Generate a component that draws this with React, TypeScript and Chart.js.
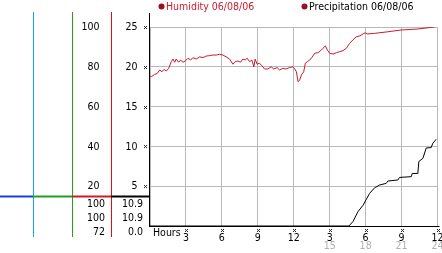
import React, { useEffect, useRef } from 'react';
import { Chart, registerables } from 'chart.js';

Chart.register(...registerables);

// Humidity (%), sampled over 24 hours
const humidityHours = [
  0.0, 0.11, 0.39, 0.61, 0.81, 1.0, 1.17, 1.36, 1.56, 1.78, 1.92, 2.06, 2.19, 2.39, 2.56, 2.75, 2.94,
  3.17, 3.39, 3.58, 3.86, 4.14, 4.42, 4.69, 4.97, 5.25, 5.53, 5.81, 6.08, 6.36, 6.64, 6.92, 7.11,
  7.33, 7.56, 7.75, 7.94, 8.11, 8.31, 8.5, 8.67, 8.78, 8.94, 9.14, 9.33, 9.56, 9.83, 10.11, 10.33,
  10.61, 10.81, 11.08, 11.36, 11.64, 11.92, 12.06, 12.22, 12.36, 12.5, 12.64, 12.83, 12.97, 13.14,
  13.33, 13.53, 13.75, 14.03, 14.25, 14.44, 14.64, 14.81, 15.0, 15.28, 15.56, 15.83, 16.11, 16.39,
  16.67, 16.94, 17.22, 17.5, 17.78, 17.97, 18.14, 18.75, 19.86, 20.97, 22.36, 23.75,
];
const humidity = [
  75.5, 75, 76.2, 76.7, 78.4, 77.5, 78.7, 77.9, 79.2, 82.6, 83.9, 82.3, 83.9, 82.3, 83.4, 82.3, 82.9,
  84.3, 83.4, 84.6, 83.9, 85, 84.6, 85.4, 85.6, 85.9, 85.9, 86.3, 85.9, 85, 83.9, 81.3, 82.6,
  82.9, 82.3, 83.9, 83.4, 84.3, 82.6, 83.4, 80, 83.9, 81.3, 81.8, 80.6, 78.9, 78.9, 80, 78.9,
  79.6, 78.4, 79.2, 78.9, 79.6, 80, 79.2, 77.5, 72.5, 73.4, 75.9, 77.5, 81.8, 82.6,
  83.4, 84.8, 86.8, 87.1, 88.1, 89.3, 90.5, 88.4, 86.8, 86.4, 87.1, 87.6, 88.1, 89.3,
  91.8, 93.5, 95.1, 95.5, 96.5, 97.1, 96.5, 96.8, 97.6, 98.5, 99, 100,
];

// Precipitation (accumulated)
const precipHours = [
  0, 16.6, 16.94, 17.36, 17.78, 18.33, 18.75, 19.17, 19.72, 19.86, 20.69, 20.83, 21.81, 21.89,
  22.36, 22.44, 22.78, 23.06, 23.47, 23.61, 23.89,
];
const precipitation = [
  0, 0, 0.55, 1.8, 2.6, 4.1, 4.8, 5.15, 5.36, 5.65, 5.78, 6.1, 6.2, 6.6,
  6.6, 8.1, 8.5, 9.8, 9.85, 10.4, 10.9,
];

const xTicks = [3, 6, 9, 12, 15, 18, 21, 24];
const xTickLabels = ['3', '6', '9', '12', '3', '6', '9', '12'];
const xTickLabels24 = ['', '', '', '', '15', '18', '21', '24'];
const precipTicks = [5, 10, 15, 20, 25];
const humidityTicks = [20, 40, 60, 80, 100];
const humidityStats = ['100', '100', '72'];
const precipStats = ['10.9', '10.9', '0.0'];
const legendLabels = ['Humidity 06/08/06', 'Precipitation 06/08/06'];

const FONT = '10.5px "DejaVu Sans Condensed", "DejaVu Sans"';
const RED = '#cc1a30';

function mark(ctx: CanvasRenderingContext2D, cx: number, cy: number) {
  ctx.fillStyle = '#222';
  const pts = [[-1, -1], [1, -1], [0, 0], [-1, 1], [1, 1]];
  for (const [dx, dy] of pts) ctx.fillRect(Math.round(cx) + dx, Math.round(cy) + dy, 1, 1);
}

const overlay = {
  id: 'overlay',
  beforeDatasetsDraw(chart: any) {
    const { ctx, chartArea: a } = chart;
    ctx.save();
    ctx.strokeStyle = '#000';
    ctx.lineWidth = 1;
    ctx.beginPath();
    ctx.moveTo(a.left - 0.5, 13);
    ctx.lineTo(a.left - 0.5, a.bottom + 1);
    ctx.moveTo(a.left - 1, a.bottom + 0.5);
    ctx.lineTo(a.right + 2, a.bottom + 0.5);
    ctx.stroke();
    ctx.restore();
  },
  afterDraw(chart: any) {
    const { ctx, chartArea: a, scales } = chart;
    const x = scales.x;
    const y = scales.y;
    const yh = scales.yh;
    ctx.save();

    // left panel vertical lines
    const vLines: [number, string][] = [[33.5, '#10a8e8'], [72.5, '#22a022'], [111.5, '#e01010']];
    ctx.lineWidth = 1;
    for (const [lx, c] of vLines) {
      ctx.strokeStyle = c;
      ctx.beginPath();
      ctx.moveTo(lx, 12);
      ctx.lineTo(lx, 237);
      ctx.stroke();
    }
    // horizontal bar
    const hY = 196.5;
    const segs: [number, number, string][] = [
      [0, 33, '#1a3fe0'], [33, 72, '#22a022'], [72, 111, '#d01c24'], [111, a.left, '#000'],
    ];
    ctx.lineWidth = 2;
    for (const [x0, x1, c] of segs) {
      ctx.strokeStyle = c;
      ctx.beginPath();
      ctx.moveTo(x0, hY);
      ctx.lineTo(x1, hY);
      ctx.stroke();
    }

    ctx.font = FONT;
    ctx.textBaseline = 'middle';
    ctx.fillStyle = '#000';
    // y tick labels
    ctx.textAlign = 'right';
    humidityTicks.forEach((v) => {
      ctx.fillStyle = '#000';
      ctx.fillText(String(v), 99.5, yh.getPixelForValue(v) + 0.5);
    });
    precipTicks.forEach((v) => {
      ctx.fillStyle = '#000';
      const py = y.getPixelForValue(v);
      ctx.fillText(String(v), 137.5, py + 0.5);
      mark(ctx, 145, py);
    });
    // stats
    const rows = [204.5, 218.5, 232.5];
    rows.forEach((ry, i) => {
      ctx.fillStyle = '#000';
      ctx.fillText(humidityStats[i], 105, ry);
      ctx.fillText(precipStats[i], 143, ry);
    });

    // x axis labels
    ctx.textAlign = 'left';
    ctx.fillStyle = '#000';
    ctx.fillText('Hours', 153, 233);
    ctx.textAlign = 'center';
    xTicks.forEach((t, i) => {
      const px = x.getPixelForValue(t);
      mark(ctx, px, 230);
      ctx.fillStyle = '#000';
      ctx.fillText(xTickLabels[i], px, 238.5);
      if (xTickLabels24[i]) {
        ctx.fillStyle = '#b0b0b0';
        ctx.fillText(xTickLabels24[i], px, 246.5);
      }
    });

    // legend
    ctx.textAlign = 'left';
    ctx.fillStyle = '#9a1020';
    ctx.beginPath();
    ctx.arc(161.5, 6.5, 3, 0, Math.PI * 2);
    ctx.fill();
    ctx.fillStyle = RED;
    ctx.fillText(legendLabels[0], 166, 7);
    ctx.fillStyle = '#9a1020';
    ctx.beginPath();
    ctx.arc(304.5, 6.5, 3, 0, Math.PI * 2);
    ctx.fill();
    ctx.fillStyle = '#000';
    ctx.fillText(legendLabels[1], 309, 7);

    ctx.restore();
  },
};

export default function App() {
  const ref = useRef<HTMLCanvasElement>(null);
  useEffect(() => {
    if (!ref.current) return;
    const chart = new Chart(ref.current, {
      type: 'line',
      data: {
        datasets: [
          {
            label: legendLabels[1],
            data: precipHours.map((h, i) => ({ x: h, y: precipitation[i] })),
            borderColor: '#000',
            borderWidth: 1,
            pointRadius: 0,
            tension: 0,
            yAxisID: 'y',
          },
          {
            label: legendLabels[0],
            data: humidityHours.map((h, i) => ({ x: h, y: humidity[i] })),
            borderColor: RED,
            borderWidth: 1,
            pointRadius: 0,
            tension: 0,
            yAxisID: 'yh',
          },
        ],
      },
      options: {
        responsive: false,
        animation: false,
        devicePixelRatio: 1,
        layout: { padding: { left: 150, top: 27, right: 4.5, bottom: 27 } },
        plugins: { legend: { display: false }, tooltip: { enabled: false } },
        scales: {
          x: {
            type: 'linear',
            min: 0,
            max: 24,
            ticks: { display: false, stepSize: 3 },
            grid: { color: '#b8b8b8', lineWidth: 1, drawTicks: false },
            border: { display: false },
            afterFit: (s: any) => { s.height = 0; },
          },
          y: {
            min: 0,
            max: 25,
            ticks: { display: false, stepSize: 5 },
            grid: { color: '#b8b8b8', lineWidth: 1, drawTicks: false },
            border: { display: false },
            afterFit: (s: any) => { s.width = 0; },
          },
          yh: {
            display: false,
            min: 0,
            max: 100,
          },
        },
      } as any,
      plugins: [overlay],
    });
    return () => chart.destroy();
  }, []);
  return (
    <div style={{ position: 'fixed', left: 0, top: 0, width: 442, height: 253, background: '#fff' }}>
      <canvas ref={ref} width={442} height={253} style={{ display: 'block' }} />
    </div>
  );
}
